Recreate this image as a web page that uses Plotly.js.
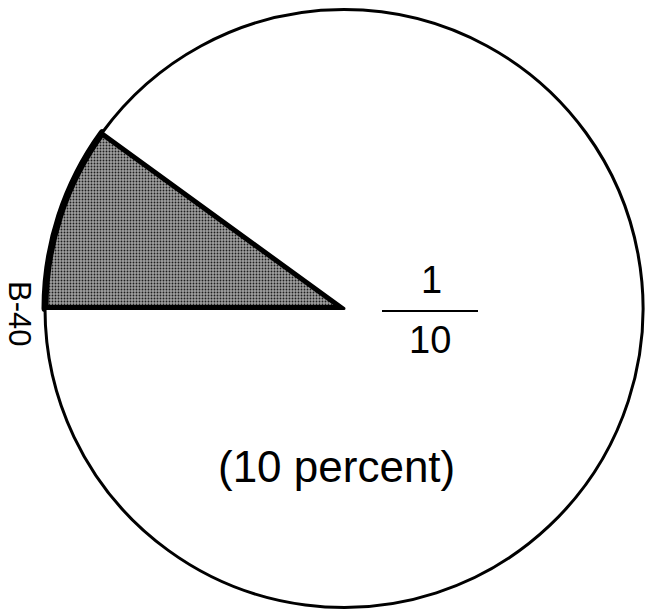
<!DOCTYPE html>
<html>
<head>
<meta charset="utf-8">
<script src="https://cdn.plot.ly/plotly-3.0.1.min.js"></script>
<style>
  html, body { margin: 0; padding: 0; background: #fff; }
  #chart { width: 646px; height: 613px; }
</style>
</head>
<body>
<div id="chart"></div>
<script>
// share of the whole: shaded part vs rest
const sliceLabels = ['B-40 share', 'Rest'];
const sliceValues = [10, 90];
const sliceColors = ['#a0a0a0', '#ffffff'];
const sliceEdges = [7, 3];

const fractionTop = '1';
const fractionBottom = '10';
const percentText = '(10 percent)';
const sideLabel = 'B-40';

const W = 646, H = 613;
const px = x => x / W;
const py = y => 1 - y / H;

const font = 'Liberation Sans, Arial, sans-serif';

const trace = {
    type: 'pie',
    labels: sliceLabels,
    values: sliceValues,
    sort: false,
    direction: 'clockwise',
    rotation: 270,
    textinfo: 'none',
    hoverinfo: 'none',
    showlegend: false,
    domain: { x: [px(45), px(643)], y: [py(611), py(6)] },
    marker: {
        colors: sliceColors,
        line: { color: '#000', width: sliceEdges },
        pattern: {
            shape: ['.', ''],
            fgcolor: ['#1e1e1e', '#ffffff'],
            bgcolor: sliceColors,
            fillmode: 'replace',
            size: 3,
            solidity: 0.3
        }
    }
};

const layout = {
    width: W,
    height: H,
    margin: { l: 0, r: 0, t: 0, b: 0 },
    paper_bgcolor: '#fff',
    font: { family: font, color: '#000' },
    annotations: [
        { text: fractionTop, x: px(432), y: py(280), xref: 'paper', yref: 'paper',
          showarrow: false, xanchor: 'center', yanchor: 'middle', font: { size: 38 } },
        { text: fractionBottom, x: px(430), y: py(340), xref: 'paper', yref: 'paper',
          showarrow: false, xanchor: 'center', yanchor: 'middle', font: { size: 38 } },
        { text: percentText, x: px(336), y: py(466), xref: 'paper', yref: 'paper',
          showarrow: false, xanchor: 'center', yanchor: 'middle', font: { size: 44 } },
        { text: sideLabel, x: px(19), y: py(313), xref: 'paper', yref: 'paper',
          showarrow: false, xanchor: 'center', yanchor: 'middle', textangle: 90,
          font: { size: 31 } }
    ],
    shapes: [
        { type: 'line', xref: 'paper', yref: 'paper',
          x0: px(382), x1: px(478), y0: py(311), y1: py(311),
          line: { color: '#000', width: 2 } }
    ]
};

Plotly.newPlot('chart', [trace], layout, { displayModeBar: false, staticPlot: true });
</script>
</body>
</html>
